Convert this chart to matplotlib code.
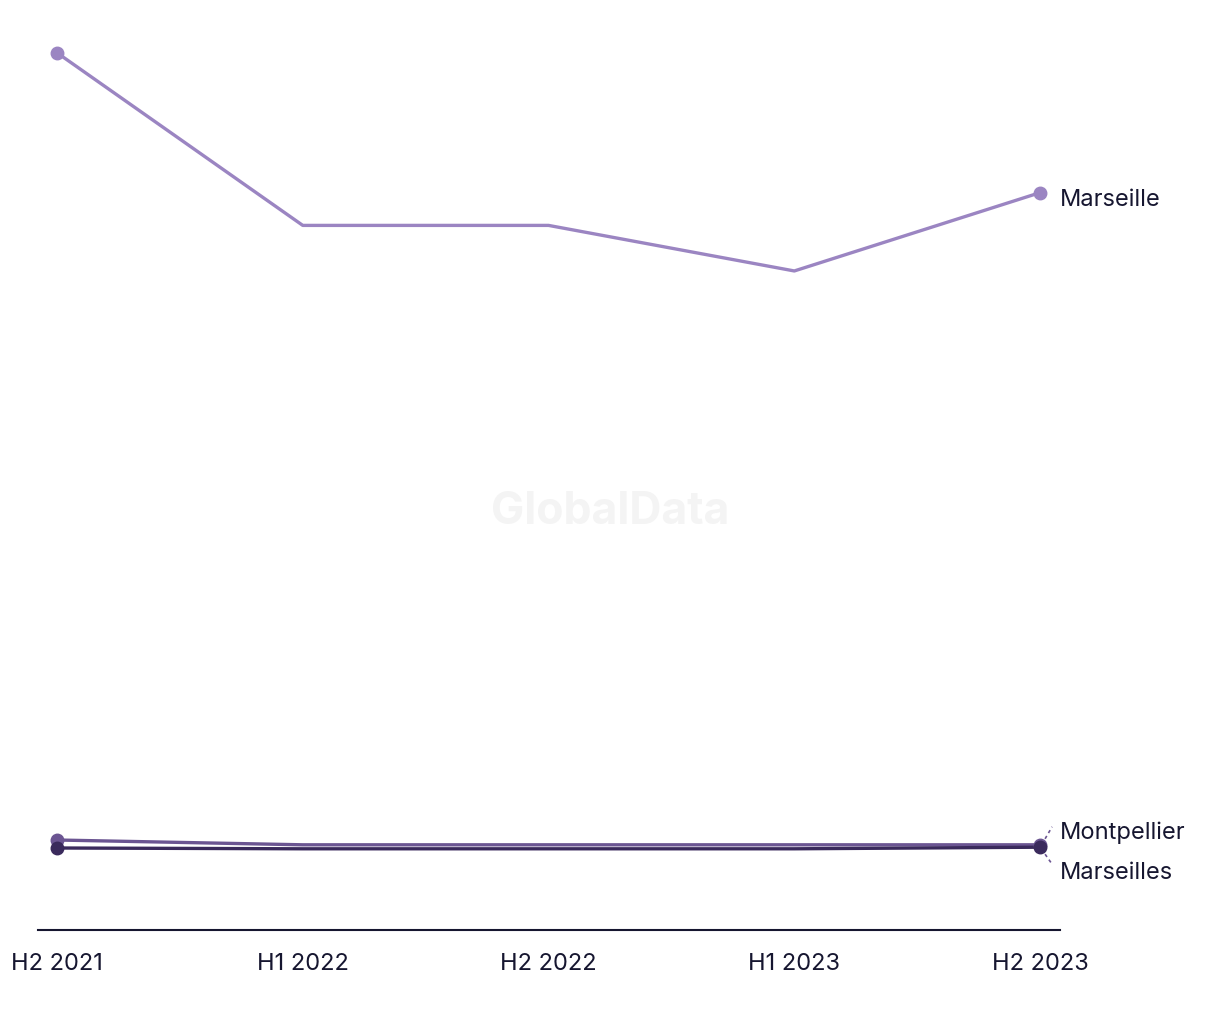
import matplotlib
matplotlib.use("Agg")
import matplotlib.pyplot as plt
from matplotlib.transforms import offset_copy

periods = ["H2 2021", "H1 2022", "H2 2022", "H1 2023", "H2 2023"]
marseille = [100.0, 78.4, 78.4, 72.7, 82.5]
montpellier = [1.5, 0.9, 0.9, 0.9, 0.9]
marseilles = [0.5, 0.4, 0.4, 0.4, 0.6]

series = [
    ("Marseille", marseille, "#9b85c2"),
    ("Montpellier", montpellier, "#6b5592"),
    ("Marseilles", marseilles, "#3a2a5c"),
]

plt.rcParams["font.family"] = ["Inter", "DejaVu Sans"]
text_color = "#161630"
fs = 17

fig = plt.figure(figsize=(12.2, 10.2), dpi=100)
ax = fig.add_axes([38 / 1220, 1 - 931 / 1020, 1022 / 1220, 910 / 1020])

x = list(range(len(periods)))
for name, vals, col in series:
    ax.plot(x, vals, color=col, lw=2.4, solid_capstyle="round", zorder=3)
    ax.plot([x[0], x[-1]], [vals[0], vals[-1]], "o", color=col, ms=9, zorder=4)

ax.set_xlim(-0.0773, 4.081)
ax.set_ylim(-9.76, 104.1)

for s in ["top", "right", "left"]:
    ax.spines[s].set_visible(False)
ax.spines["bottom"].set_color(text_color)
ax.spines["bottom"].set_linewidth(1.5)
ax.set_yticks([])
ax.set_xticks(x)
ax.set_xticklabels(periods, fontsize=fs, color=text_color)
ax.tick_params(axis="x", length=0, pad=16)

# end labels
ax.annotate("Marseille", xy=(x[-1], marseille[-1]), xytext=(14.4, -4.5),
            textcoords="offset points", ha="left", va="center",
            fontsize=fs, color=text_color)
ax.annotate("Montpellier", xy=(x[-1], montpellier[-1]), xytext=(14.4, 9.5),
            textcoords="offset points", ha="left", va="center",
            fontsize=fs, color=text_color)
ax.annotate("Marseilles", xy=(x[-1], marseilles[-1]), xytext=(14.4, -17.5),
            textcoords="offset points", ha="left", va="center",
            fontsize=fs, color=text_color)

# dashed leader lines (offsets in pixels from the end point)
for (dx0, dy0, dx1, dy1), yv in [((5, 6, 12, 18), montpellier[-1]),
                                  ((5, -7, 12, -17), marseilles[-1])]:
    t0 = offset_copy(ax.transData, fig=fig, x=dx0, y=dy0, units="dots")
    t1 = offset_copy(ax.transData, fig=fig, x=dx1, y=dy1, units="dots")
    p0 = t0.transform((x[-1], yv))
    p1 = t1.transform((x[-1], yv))
    inv = ax.transData.inverted()
    a = inv.transform(p0)
    b = inv.transform(p1)
    ax.plot([a[0], b[0]], [a[1], b[1]], color=series[1][2], lw=1.2,
            linestyle=(0, (2, 2)), clip_on=False, zorder=2)

fig.text(0.5, 1 - 512 / 1020, "GlobalData", ha="center", va="center",
         fontsize=32, fontweight="bold", color="#f4f4f4", zorder=0)

fig.savefig("out.png", dpi=100, facecolor="white")
